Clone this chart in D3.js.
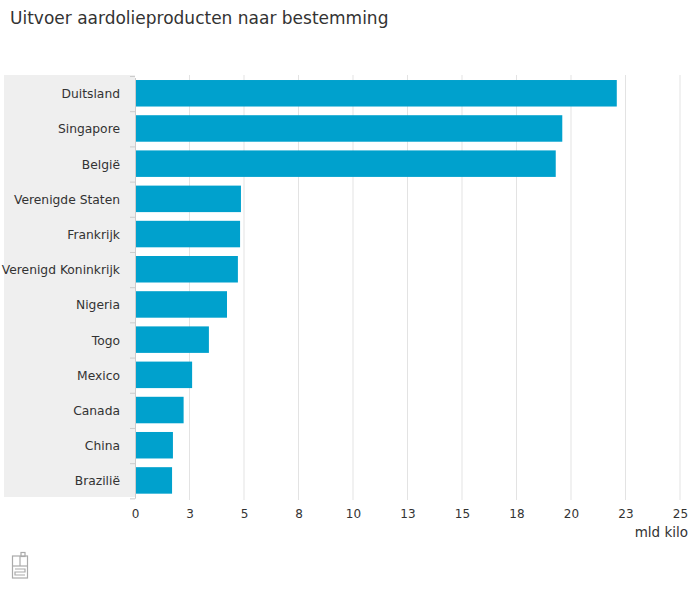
<!DOCTYPE html>
<html><head><meta charset="utf-8">
<script src="https://cdn.jsdelivr.net/npm/d3@7"></script>
<style>body{margin:0;background:#fff;font-family:"DejaVu Sans",Verdana,sans-serif;}</style>
</head><body><svg id="c" width="700" height="600"></svg>
<script>
const categories = ["Duitsland","Singapore","België","Verenigde Staten","Frankrijk","Verenigd Koninkrijk","Nigeria","Togo","Mexico","Canada","China","Brazilië"];
const values = [22.1,19.6,19.3,4.86,4.82,4.72,4.22,3.39,2.62,2.23,1.74,1.70];
const tickValues = [0,2.5,5,7.5,10,12.5,15,17.5,20,22.5,25];
const tickLabels = ["0","3","5","8","10","13","15","18","20","23","25"];
const title = "Uitvoer aardolieproducten naar bestemming";
const unit = "mld kilo";

const svg = d3.select("#c");
const m = {left:135, top:76.5, bottom:497.2};
const x = d3.scaleLinear().domain([0,25]).range([m.left, 680]);
const y = d3.scaleBand().domain(categories).range([m.top, m.bottom]).paddingInner(0.247).paddingOuter(0.1);

svg.append("text").attr("x",10).attr("y",24).attr("font-size",17).attr("fill","#333").text(title);

// label background
svg.append("rect").attr("x",4).attr("y",75).attr("width",131).attr("height",422).attr("fill","#efefef");

// grid
svg.append("g").selectAll("line").data(tickValues.slice(1)).join("line")
  .attr("x1",d=>x(d)).attr("x2",d=>x(d)).attr("y1",75).attr("y2",500)
  .attr("stroke","#e3e3e3").attr("stroke-width",1);

// bars
svg.append("g").selectAll("rect").data(values).join("rect")
  .attr("x",x(0)).attr("y",(d,i)=>y(categories[i]))
  .attr("width",d=>x(d)-x(0)).attr("height",y.bandwidth())
  .attr("fill","#00a1cd");

// y axis
const ya = svg.append("g").attr("transform",`translate(${m.left},1)`)
  .call(d3.axisLeft(y).tickSize(0).tickPadding(15));
ya.select(".domain").attr("stroke","#ccc");
ya.selectAll("text").attr("font-size",12.3).attr("fill","#333").attr("font-family","DejaVu Sans, sans-serif");
// separator ticks
const step = y.step();
svg.append("g").selectAll("line").data(d3.range(categories.length+1)).join("line")
  .attr("x1",m.left-5).attr("x2",m.left).attr("y1",d=>m.top + d*step).attr("y2",d=>m.top + d*step)
  .attr("stroke","#ccc");

// x axis
const xa = svg.append("g").attr("transform",`translate(0,500)`)
  .call(d3.axisBottom(x).tickValues(tickValues).tickFormat((d,i)=>tickLabels[i]).tickSize(0).tickPadding(9));
xa.select(".domain").remove();
xa.selectAll("text").attr("font-size",12).attr("fill","#333").attr("font-family","DejaVu Sans, sans-serif");

svg.append("text").attr("x",688).attr("y",537).attr("text-anchor","end").attr("font-size",13.5).attr("fill","#333").text(unit);

// logo
const lg = svg.append("g").attr("transform","translate(12,552)").attr("fill","none").attr("stroke","#aaa").attr("stroke-width",1.2);
lg.append("rect").attr("x",0.5).attr("y",4).attr("width",15).attr("height",22);
lg.append("line").attr("x1",0.5).attr("x2",15.5).attr("y1",14).attr("y2",14);
lg.append("line").attr("x1",8).attr("x2",8).attr("y1",4).attr("y2",14);
lg.append("path").attr("d","M3,17 H13 V20 H3 V23 H13");
lg.append("rect").attr("x",9).attr("y",0.5).attr("width",4).attr("height",4);
</script></body></html>
